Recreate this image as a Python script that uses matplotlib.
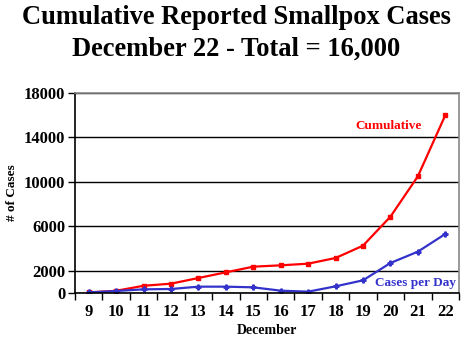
import matplotlib
matplotlib.use("Agg")
import matplotlib.pyplot as plt
from matplotlib.ticker import FixedLocator, NullFormatter, FixedFormatter

# ── Data ──────────────────────────────────────────────────────────────────────
days = ["9", "10", "11", "12", "13", "14", "15", "16", "17", "18", "19", "20", "21", "22"]
cumulative = [50, 200, 650, 840, 1350, 1860, 2370, 2490, 2640, 3150, 4260, 6870, 10500, 16000]
per_day = [50, 180, 330, 360, 570, 570, 510, 210, 120, 600, 1140, 2700, 3720, 5310]
y_ticks = [0, 2000, 6000, 10000, 14000, 18000]

plt.rcParams["font.family"] = ["Liberation Serif", "DejaVu Serif"]
plt.rcParams["font.weight"] = "bold"

RED = "#ff0000"
BLUE = "#3333cc"

fig = plt.figure(figsize=(4.73, 3.48), dpi=100)
ax = fig.add_axes([75 / 473, 1 - 293 / 348, 384 / 473, 200 / 348])

x = list(range(len(days)))
ax.plot(x, cumulative, "-s", color=RED, linewidth=1.6, markersize=3.5)
ax.plot(x, per_day, "-P", color=BLUE, linewidth=1.6, markersize=3.5)

ax.set_xlim(-0.5, len(days) - 0.5)
ax.set_ylim(0, 18000)

# category axis: ticks between days, labels at day centres
ax.xaxis.set_major_locator(FixedLocator([i - 0.5 for i in range(len(days) + 1)]))
ax.xaxis.set_major_formatter(NullFormatter())
ax.xaxis.set_minor_locator(FixedLocator(x))
ax.xaxis.set_minor_formatter(FixedFormatter(days))
ax.tick_params(axis="x", which="major", direction="out", length=5, width=1)
ax.tick_params(axis="x", which="minor", length=0, pad=8, labelsize=12)

ax.set_yticks(y_ticks)
ax.tick_params(axis="y", direction="out", length=5, width=1, labelsize=12, pad=2)
ax.grid(axis="y", color="black", linewidth=1)
ax.set_axisbelow(True)

for sp in ax.spines.values():
    sp.set_linewidth(1.2)
ax.spines["top"].set_color("#888888")
ax.spines["right"].set_color("#888888")

ax.set_ylabel("# of Cases", fontsize=9.5, fontweight="bold", labelpad=4)
ax.set_xlabel("December", fontsize=10, fontweight="bold", labelpad=3)

ax.text(9.74, 15030, "Cumulative", color=RED, fontsize=9.5, fontweight="bold",
        va="center")
ax.text(11.93, 900, "Cases per Day", color=BLUE, fontsize=9.5, fontweight="bold",
        ha="center", va="center")

fig.text(0.5, 1 - 33.5 / 348, "Cumulative Reported Smallpox Cases\nDecember 22 - Total = 16,000",
         ha="center", va="center", fontsize=19.1, fontweight="bold", linespacing=1.35)

fig.savefig("out.png", dpi=100)
